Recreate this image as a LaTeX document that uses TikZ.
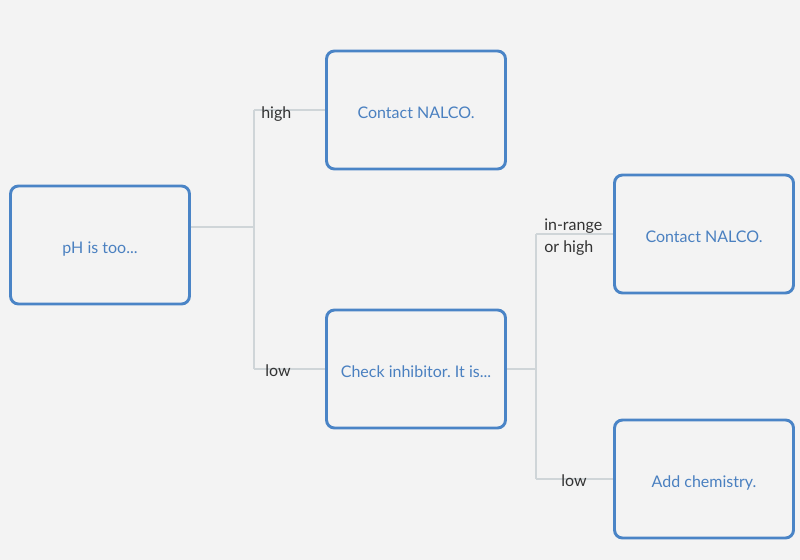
\documentclass[tikz,border=0pt]{standalone}
\usepackage{fontspec}
\setmainfont{Lato}
\frenchspacing
\definecolor{bg}{HTML}{F3F3F3}
\definecolor{boxblue}{HTML}{4A84C6}
\definecolor{txtblue}{HTML}{4A80C0}
\definecolor{linegray}{HTML}{CFD5D8}
\definecolor{lbl}{HTML}{333333}
\begin{document}
\begin{tikzpicture}[x=0.75pt,y=-0.75pt,
  stepbox/.style={draw=boxblue,line width=2.2pt,rounded corners=6pt,fill=bg,
    minimum width=179*0.75pt,minimum height=118*0.75pt,inner sep=0pt,
    text height=13pt,text depth=0pt,
    text=txtblue,font=\fontsize{12}{14}\selectfont},
  conn/.style={draw=linegray,line width=1.1pt},
  lab/.style={text=lbl,font=\fontsize{12}{16.5}\selectfont,inner sep=0pt,align=left}]
\useasboundingbox[fill=bg] (0,0) rectangle (800,560);
\node[stepbox] (a) at (100,245) {pH is too...};
\node[stepbox] (b) at (416,110) {Contact NALCO.};
\node[stepbox] (c) at (416,369) {Check inhibitor. It is...};
\node[stepbox] (d) at (704,234) {Contact NALCO.};
\node[stepbox] (e) at (704,479) {Add chemistry.};
\coordinate (j1) at (254,227);
\coordinate (j2) at (536,369);
\draw[conn] (a.east |- j1) -- (j1);
\draw[conn] (j1 |- b.west) -- (j1 |- c.west);
\draw[conn] (j1 |- b.west) -- (b.west);
\draw[conn] (j1 |- c.west) -- (c.west);
\draw[conn] (c.east) -- (j2);
\draw[conn] (j2 |- d.west) -- (j2 |- e.west);
\draw[conn] (j2 |- d.west) -- (d.west);
\draw[conn] (j2 |- e.west) -- (e.west);
\node[lab,anchor=west] (l1) at (261,114) {high};
\node[lab,anchor=west] (l2) at (265,371) {low};
\node[lab,anchor=west] (l3) at (544,237.5) {in-range\\or high};
\node[lab,anchor=west] (l4) at (561,481) {low};
\end{tikzpicture}
\end{document}
